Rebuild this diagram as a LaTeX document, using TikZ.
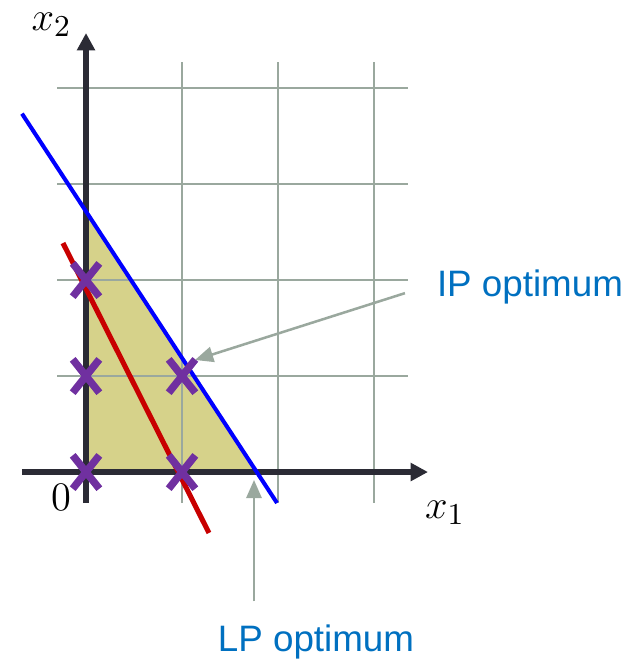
\documentclass[tikz,border=0pt]{standalone}
\usepackage{fontspec}
\newfontfamily\labelfont{Liberation Sans}
\usepackage{xcolor}
\usepackage{tikz}
\usetikzlibrary{arrows.meta,shapes.misc}

\definecolor{gridgray}{RGB}{154,168,158}
\definecolor{axisdark}{RGB}{43,43,53}
\definecolor{feasfill}{RGB}{214,210,138}
\definecolor{ptpurple}{RGB}{112,48,160}
\definecolor{labelblue}{RGB}{0,112,192}
\definecolor{lpblue}{RGB}{0,0,255}
\definecolor{ipred}{RGB}{200,0,0}

\begin{document}
\begin{tikzpicture}[
    gridline/.style={gridgray, line width=0.6pt},
    axis/.style={axisdark, line width=1.5pt, -{Triangle[length=0.18cm,width=0.18cm]}},
    intpt/.style={cross out, draw=ptpurple, line width=2.2pt, minimum width=0.2cm, minimum height=0.27cm, inner sep=0pt},
    note/.style={text=labelblue, font=\labelfont\fontsize{10.9}{13}\selectfont},
    pointer/.style={gridgray, line width=0.75pt, -{Triangle[length=0.19cm,width=0.16cm]}},
    axlabel/.style={font=\fontsize{12.5}{15}\selectfont}
]
\useasboundingbox (-0.896,-1.979) rectangle (5.740,4.917);

% feasible region of the LP relaxation
\fill[feasfill] (0,0) -- (0,2.72) -- (1.79,0) -- cycle;

% grid
\foreach \x in {0,...,3}
    \draw[gridline] (\x,-0.32) -- (\x,4.27);
\foreach \y in {0,...,4}
    \draw[gridline] (-0.3,\y) -- (3.35,\y);

% axes
\draw[axis] (-0.667,0) -- (3.5625,0);
\draw[axis] (0,-0.323) -- (0,4.573);
\node[axlabel] (xone) at (3.74,-0.42) {$x_1$};
\node[axlabel] (xtwo) at (-0.36,4.66) {$x_2$};
\node[axlabel] (orig) at (-0.26,-0.27) {$0$};

% constraint and objective lines
\draw[lpblue, line width=1.2pt] (-0.667,3.733) -- (1.99,-0.323);
\draw[ipred, line width=1.5pt] (-0.24,2.385) -- (1.281,-0.635);

% integer points
\foreach \px/\py in {0/0,0/1,0/2,1/0,1/1}
    \node[intpt] (p\px\py) at (\px,\py) {};

% labels
\node[note] (iplabel) at (4.625,1.93) {IP optimum};
\node[note] (lplabel) at (2.396,-1.77) {LP optimum};
\coordinate (iptip) at (1.135,1.167);
\coordinate (lptip) at (1.75,-0.083);

\draw[pointer, shorten <=0.22cm] (iplabel.west) -- (iptip);
\draw[pointer, shorten <=0.12cm] (lplabel.north -| lptip) -- (lptip);

\end{tikzpicture}
\end{document}
